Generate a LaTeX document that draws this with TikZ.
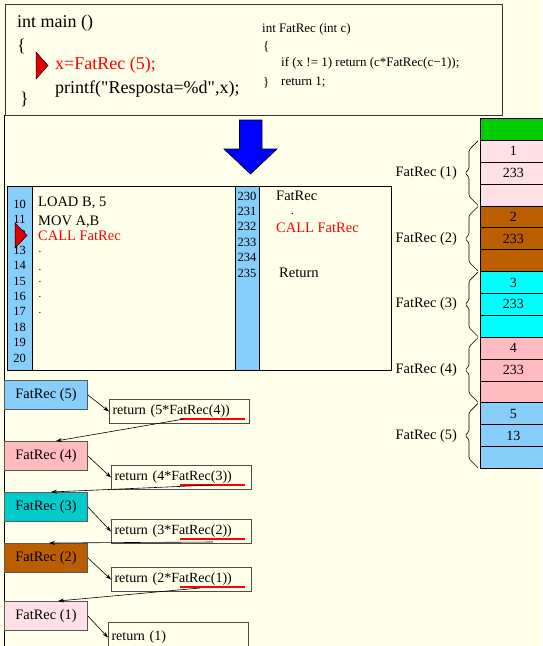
\documentclass[tikz,border=0pt]{standalone}
\usepackage{fontspec}
\setmainfont{Liberation Serif}
% plain family without TeX ligatures, so " stays a straight quote
\newfontfamily\srcfont{Liberation Serif}
\usetikzlibrary{arrows.meta,calc}

\definecolor{paper}{HTML}{FFFFEA}
\definecolor{skyb}{HTML}{87CEFA}
\definecolor{rose}{HTML}{FFE0E6}
\definecolor{pinkc}{HTML}{FFBBC0}
\definecolor{rust}{HTML}{BB5E00}
\definecolor{aqua}{HTML}{00FFFF}
\definecolor{tealc}{HTML}{00CCCC}
\definecolor{leaf}{HTML}{00CC00}
\definecolor{redt}{HTML}{FF0000}
\definecolor{bluearr}{HTML}{0000FF}

\newcommand{\fsz}[1]{\fontsize{#1}{#1}\selectfont}

\begin{document}
\begin{tikzpicture}[x=1pt,y=-1pt,
  txt/.style={anchor=base west,inner sep=0pt},
  num/.style={anchor=base,inner sep=0pt,font=\fsz{12.5}},
  mono/.style={txt,font=\fsz{14.5}},
  dotmark/.style={txt,font=\fsz{11},text height=2pt,text depth=0pt},
  cell/.style={draw,line width=0.8pt,minimum width=66,minimum height=21.875,inner sep=0pt,font=\fsz{14},anchor=north west},
  fbox/.style={draw=black!65,line width=0.9pt,minimum width=83,minimum height=29,inner sep=0pt,font=\fsz{14.4},anchor=north west},
  rbox/.style={draw=black!70,line width=1pt,anchor=north west,minimum height=24,text width=134,inner xsep=3,inner ysep=0,align=left,font=\fsz{14}},
  brc/.style={line width=0.6pt,rounded corners=1.5pt},
  link/.style={line width=0.6pt,-{Stealth[length=6pt,width=4pt]}},
  underl/.style={draw=redt,line width=1.3pt},
  pointer/.style={fill=red!90!black,draw=black,line width=0.5pt}]

\useasboundingbox (0,0) rectangle (542,646);
\fill[paper] (0,0) rectangle (542,646);

% ---------- source code box ----------
\node[draw=black!80,line width=0.9pt,minimum width=497,minimum height=111,anchor=north west,inner sep=0pt] (topbox) at (5,4) {};
\node[txt,font=\fsz{18}] (mainhead) at (17,27) {int main ()};
\node[txt,font=\fsz{18}] (mainopen) at (17,51) {\{};
\node[txt,font=\fsz{18},text=redt] (maincall) at (55,69) {x=FatRec (5);};
\node[txt,font=\srcfont\fsz{18}] (mainprint) at (55,93) {printf("Resposta=\%d",x);};
\node[txt,font=\fsz{18}] (mainclose) at (20,104) {\}};
\fill[pointer] (36,52) -- (48,65.5) -- (36,79) -- cycle;

\node[txt,font=\fsz{13}] (fhead) at (262,32) {int FatRec (int c)};
\node[txt,font=\fsz{13}] (fopen) at (263,50) {\{};
\node[txt,font=\fsz{13}] (fif) at (281,66) {if (x != 1) return (c*FatRec(c−1));};
\node[txt,font=\fsz{13}] (fclose) at (263,86) {\}};
\node[txt,font=\fsz{13}] (fret) at (281,85) {return 1;};

% ---------- left panel edge ----------
\draw[line width=0.9pt] (4,115) -- (4,646);

% ---------- big down arrow ----------
\filldraw[fill=bluearr,draw=black,line width=0.6pt]
  (239.5,120) -- (262,120) -- (262,149) -- (277,149) -- (250.5,174)
  -- (224,149) -- (239.5,149) -- cycle;

% ---------- memory listing ----------
\node[draw,fill=skyb,line width=0.8pt,minimum width=25,minimum height=184,anchor=north west,inner sep=0pt] (colA) at (7,186) {};
\node[draw,fill=skyb,line width=0.8pt,minimum width=24,minimum height=184,anchor=north west,inner sep=0pt] (colB) at (235,186) {};
\node[draw,line width=1.2pt,minimum width=384,minimum height=184,anchor=north west,inner sep=0pt] (mem) at (7,186) {};

\foreach \n [count=\k from 0] in {10,...,20}
  \node[num] (ln\n) at (19.5,{208+15.4*\k}) {\n};
\foreach \n [count=\k from 0] in {230,...,235}
  \node[num] (mn\n) at (247,{200+15.4*\k}) {\n};

\node[mono] (iload) at (38,206) {LOAD B, 5};
\node[mono] (imov) at (38,225) {MOV A,B};
\node[mono,text=redt] (icall) at (38,240) {CALL FatRec};
\foreach \y [count=\k] in {252,270,282,297,313}
  \node[dotmark] (dot\k) at (38.5,\y) {.};

\node[mono] (rname) at (276,200) {FatRec};
\node[dotmark] (rdot) at (291,214) {.};
\node[mono,text=redt] (rcall) at (276,232) {CALL FatRec};
\node[mono] (rret) at (279,277) {Return};
\fill[pointer] (15,223) -- (27,235.5) -- (15,248) -- cycle;

% ---------- stack ----------
\foreach \i/\c/\t in {0/leaf/,1/rose/1,2/rose/233,3/rose/,4/rust/2,5/rust/233,6/rust/,
                      7/aqua/3,8/aqua/233,9/aqua/,10/pinkc/4,11/pinkc/233,12/pinkc/,
                      13/skyb/5,14/skyb/13,15/skyb/}
  \node[cell,fill=\c] (s\i) at (480,{118+21.875*\i}) {\t};

\foreach \g in {1,...,5} {
  \pgfmathtruncatemacro{\a}{3*\g-2}
  \pgfmathtruncatemacro{\c}{3*\g}
  \coordinate (bt\g) at ($(s\a.north west)+(-2,1)$);
  \coordinate (bb\g) at ($(s\c.south west)+(-2,-1)$);
  \coordinate (bm\g) at ($(bt\g)!0.5!(bb\g)$);
  \draw[brc] (bt\g) -- ($(bt\g)+(-9,9)$) -- ($(bm\g)+(-9,-4)$) -- ($(bm\g)+(-13,0)$)
    -- ($(bm\g)+(-9,4)$) -- ($(bb\g)+(-9,-9)$) -- (bb\g);
  \node[anchor=east,inner sep=0pt,font=\fsz{14.4}] (lab\g) at ($(bm\g)+(-21,0)$) {FatRec (\g)};
}

% ---------- call chain ----------
\node[fbox,fill=skyb] (f5) at (4,380) {FatRec (5)};
\node[fbox,fill=pinkc] (f4) at (4,441) {FatRec (4)};
\node[fbox,fill=tealc] (f3) at (4,492) {FatRec (3)};
\node[fbox,fill=rust] (f2) at (4,543) {FatRec (2)};
\node[fbox,fill=rose] (f1) at (4,601) {FatRec (1)};

\node[rbox] (r5) at (109,399) {return (5*FatRec(4))};
\node[rbox] (r4) at (111,465) {return (4*FatRec(3))};
\node[rbox] (r3) at (111,519) {return (3*FatRec(2))};
\node[rbox] (r2) at (111,567) {return (2*FatRec(1))};
\node[rbox,minimum height=30] (r1) at (108,622) {return (1)};

\draw[underl] ($(r5.south west)+(71,-5)$) -- ($(r5.south west)+(136,-5)$);
\draw[underl] ($(r4.south west)+(69,-5)$) -- ($(r4.south west)+(134,-5)$);
\draw[underl] ($(r3.south west)+(69,-5)$) -- ($(r3.south west)+(134,-5)$);
\draw[underl] ($(r2.south west)+(69,-5)$) -- ($(r2.south west)+(134,-5)$);

\foreach \k in {5,4,3,2,1}
  \draw[link] (f\k.east) -- (r\k.west);

\draw[link] ($(r5.south west)+(75,-5)$) -- ($(f4.north)+(10,0)$);
\draw[link] ($(r4.south west)+(102,-5)$) -- ($(f3.north)+(5,0)$);
\draw[link] ($(r3.south west)+(102,-2)$) -- ($(f2.north)+(3,0)$);
\draw[link] ($(r2.south west)+(89,-4)$) -- ($(f1.north)+(12,0)$);

\end{tikzpicture}
\end{document}
